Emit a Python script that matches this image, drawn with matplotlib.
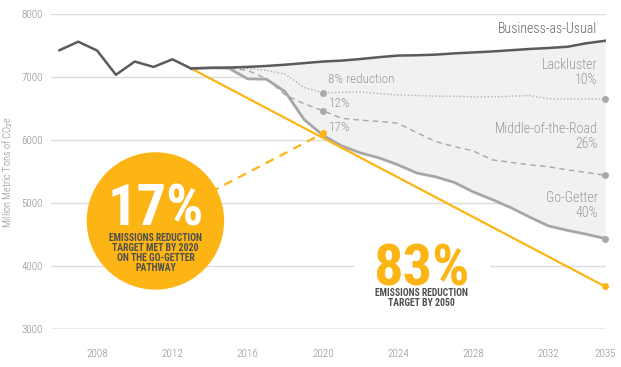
import matplotlib
matplotlib.use("Agg")
import matplotlib.pyplot as plt
from matplotlib.patches import Circle
from matplotlib.transforms import ScaledTranslation
from matplotlib import font_manager

# ---------------- data ----------------
hist_years = [2006, 2007, 2008, 2009, 2010, 2011, 2012, 2013]
hist_values = [7430, 7565, 7425, 7040, 7250, 7165, 7285, 7140]

proj_years = list(range(2013, 2036))
bau = [7140, 7150, 7155, 7165, 7180, 7200, 7225, 7250, 7265, 7290, 7320, 7345,
       7350, 7360, 7380, 7395, 7410, 7430, 7450, 7465, 7485, 7540, 7580]
lackluster = [7140, 7150, 7150, 7140, 7110, 7050, 6840, 6755, 6760, 6770, 6740, 6720,
              6710, 6700, 6700, 6690, 6690, 6700, 6710, 6660, 6655, 6655, 6655]
middle_road = [7140, 7150, 7150, 7110, 6980, 6720, 6580, 6470, 6350, 6320, 6300, 6270,
               6120, 5980, 5900, 5830, 5690, 5650, 5610, 5580, 5530, 5490, 5445]
go_getter = [7140, 7150, 7145, 6975, 6970, 6770, 6330, 6080, 5910, 5800, 5720, 5610,
             5480, 5420, 5330, 5180, 5060, 4930, 4780, 4640, 4570, 4510, 4440]

target_years = [2013, 2035]
target_values = [7140, 3680]

milestone_year = 2020
end_year = 2035

x_ticks = [2008, 2012, 2016, 2020, 2024, 2028, 2032, 2035]
y_ticks = [3000, 4000, 5000, 6000, 7000, 8000]

# ---------------- fonts ----------------
fl = font_manager.fontManager.ttflist
names = {f.name for f in fl}
FAM, STRETCH = 'Roboto', 'normal'
for cand in ['Roboto Condensed', 'Fira Sans Condensed', 'IBM Plex Sans Condensed',
             'Archivo Narrow', 'PT Sans Narrow', 'Liberation Sans Narrow']:
    if cand in names:
        FAM, STRETCH = cand, 'normal'
        break
else:
    if any(f.name == 'Open Sans' and f.stretch == 'condensed' for f in fl):
        FAM, STRETCH = 'Open Sans', 'condensed'

plt.rcParams['font.family'] = [FAM, 'DejaVu Sans']
plt.rcParams['font.stretch'] = STRETCH
plt.rcParams['mathtext.fontset'] = 'custom'
plt.rcParams['mathtext.rm'] = FAM

ORANGE = '#fdb515'
DARK = '#5b5b5b'
MID = '#a6a6a6'
LIGHT_TXT = '#9a9a9a'
FILL = '#f1f1f1'
TICK = '#8c8c8c'

fig = plt.figure(figsize=(6.21, 3.67), dpi=100)
ax = fig.add_axes([51/621, 1-329.3/367, 555/621, 315/367])
ax.set_xlim(2005.55, 2035.05)
ax.set_ylim(3000, 8000)

for s in ax.spines.values():
    s.set_visible(False)
ax.set_xticks(x_ticks)
ax.set_yticks(y_ticks)
ax.tick_params(length=0, colors=TICK, labelsize=8)
ax.tick_params(axis='x', pad=14)
ax.tick_params(axis='y', pad=6)
for lab in ax.get_xticklabels() + ax.get_yticklabels():
    lab.set_fontweight('light')
for yv in y_ticks:
    if yv == 4000:
        # gridline interrupted behind the 83% callout
        ax.axhline(yv, xmax=(353-51)/555, color='#dcdcdc', lw=1.0, zorder=0)
        ax.axhline(yv, xmin=(490-51)/555, color='#dcdcdc', lw=1.0, zorder=0)
    else:
        ax.axhline(yv, color='#9e9e9e' if yv == 3000 else '#dcdcdc',
                   lw=1.0, zorder=0)

ax.set_ylabel('Million Metric Tons of CO$_2$e', color=TICK, fontsize=7.5, fontweight='light')
ax.yaxis.set_label_coords(-0.064, 0.5)

# fill between BAU and Go-Getter
ax.fill_between(proj_years, bau, go_getter, color=FILL, lw=0, zorder=1)

# lines
ax.plot(hist_years, hist_values, color=DARK, lw=1.8, zorder=5)
ax.plot(proj_years, bau, color=DARK, lw=1.8, zorder=5)
ax.plot(proj_years, lackluster, color='#b0b0b0', lw=1.0, ls=(0, (1, 1.5)), zorder=3)
ax.plot(proj_years, middle_road, color='#a8a8a8', lw=1.0, ls=(0, (4, 3)), zorder=3)
ax.plot(proj_years, go_getter, color=MID, lw=2.0, zorder=3)
ax.plot(target_years, target_values, color=ORANGE, lw=1.6, zorder=4)

# markers
i20 = proj_years.index(milestone_year)
ax.plot([milestone_year]*2, [lackluster[i20], middle_road[i20]], ls='none',
        marker='o', ms=4, color='#aaaaaa', zorder=6)
ax.plot([end_year]*3, [lackluster[-1], middle_road[-1], go_getter[-1]], ls='none',
        marker='o', ms=4, color='#aaaaaa', zorder=6, clip_on=False)
ax.plot([end_year], [target_values[-1]], ls='none', marker='o', ms=4,
        color=ORANGE, zorder=6, clip_on=False)
ax.plot([milestone_year], [go_getter[i20] + 30], ls='none', marker='o', ms=4,
        color=ORANGE, zorder=6)

# callout circle (17%)
cx, cy = 2011.1, 4720
ax.plot([cx, milestone_year], [cy, go_getter[i20] + 30], color=ORANGE, lw=1.6,
        ls=(0, (4, 3)), zorder=6)
circ = Circle((0, 0), radius=0.68, color=ORANGE, zorder=7,
              transform=fig.dpi_scale_trans + ScaledTranslation(cx, cy, ax.transData))
ax.add_patch(circ)
ax.text(cx, 4655, '17%', color='white', fontsize=42, fontweight='bold',
        ha='center', va='baseline', zorder=8)
ax.text(cx, 4211, 'EMISSIONS REDUCTION\nTARGET MET BY 2020\nON THE GO-GETTER\nPATHWAY',
        color='#4f4f4f', fontsize=7, fontweight='bold', ha='center', va='center',
        linespacing=1.0, zorder=8)

# 83% callout
ax.text(2025.25, 3703, '83%', color=ORANGE, fontsize=42, fontweight='bold',
        ha='center', va='baseline', zorder=8)
ax.text(2025.25, 3497, 'EMISSIONS REDUCTION\nTARGET BY 2050', color='#4f4f4f',
        fontsize=7, fontweight='bold', ha='center', va='center',
        linespacing=1.0, zorder=8)

# scenario labels
xr = 2034.6
ax.text(xr, 7770, 'Business-as-Usual', color='#666666', fontsize=10,
        fontweight='light', ha='right', va='center', zorder=8)
ax.text(xr, 7070, 'Lackluster\n10%', color=LIGHT_TXT, fontsize=10, fontweight='light',
        ha='right', va='center', linespacing=1.1, zorder=8)
ax.text(xr, 6060, 'Middle-of-the-Road\n26%', color=LIGHT_TXT, fontsize=10, fontweight='light',
        ha='right', va='center', linespacing=1.1, zorder=8)
ax.text(xr, 4965, 'Go-Getter\n40%', color=LIGHT_TXT, fontsize=10, fontweight='light',
        ha='right', va='center', linespacing=1.1, zorder=8)
ax.text(2020.3, 6960, '8% reduction', color=LIGHT_TXT, fontsize=9.5, fontweight='light',
        ha='left', va='center', zorder=8)
ax.text(2020.3, 6580, '12%', color=LIGHT_TXT, fontsize=9.5, fontweight='light',
        ha='left', va='center', zorder=8)
ax.text(2020.3, 6200, '17%', color=LIGHT_TXT, fontsize=9.5, fontweight='light',
        ha='left', va='center', zorder=8)

fig.savefig('out.png', dpi=100)
